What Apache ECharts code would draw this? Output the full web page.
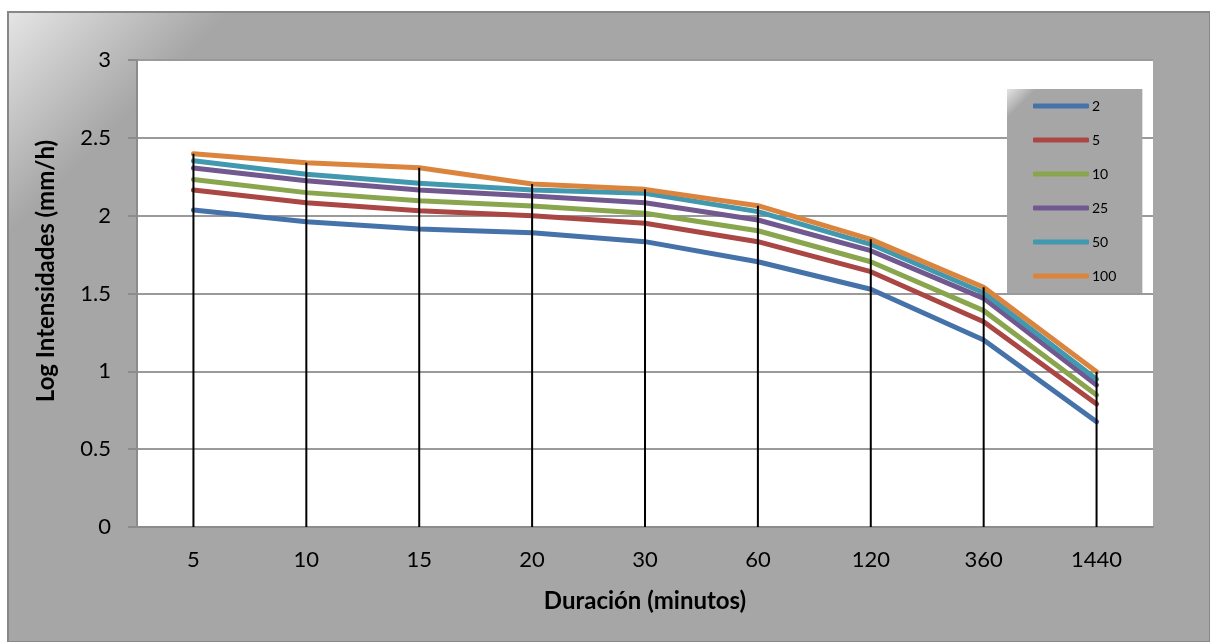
<!DOCTYPE html>
<html>
<head>
<meta charset="utf-8">
<script src="https://cdn.jsdelivr.net/npm/echarts@6/dist/echarts.min.js"></script>
<style>html,body{margin:0;padding:0;background:#fff;}#c{width:1210px;height:642px;}</style>
</head>
<body>
<div id="c"></div>
<script>
const categories = ['5','10','15','20','30','60','120','360','1440'];
const seriesNames = ['2','5','10','25','50','100'];
const s2   = [2.036, 1.961, 1.914, 1.891, 1.833, 1.704, 1.527, 1.201, 0.676];
const s5   = [2.165, 2.083, 2.032, 2.000, 1.951, 1.833, 1.640, 1.319, 0.790];
const s10  = [2.233, 2.148, 2.096, 2.062, 2.015, 1.903, 1.704, 1.390, 0.848];
const s25  = [2.306, 2.225, 2.165, 2.126, 2.083, 1.972, 1.775, 1.469, 0.912];
const s50  = [2.353, 2.266, 2.208, 2.165, 2.144, 2.026, 1.816, 1.505, 0.949];
const s100 = [2.398, 2.340, 2.308, 2.203, 2.169, 2.064, 1.848, 1.540, 0.998];
const yTicks = [0, 0.5, 1, 1.5, 2, 2.5, 3];
const colors = ['#4672AA', '#AA4643', '#89A54E', '#71588F', '#4198AF', '#DB843D'];
const allData = [s2, s5, s10, s25, s50, s100];

const FONT = 'Lato';
const chart = echarts.init(document.getElementById('c'), null, {renderer: 'canvas'});

const lineSeries = seriesNames.map((n, i) => ({
  name: n,
  type: 'line',
  data: allData[i],
  symbol: 'none',
  z: 2 + i * 0.01,
  lineStyle: {width: 5, color: colors[i], cap: 'round', join: 'round'},
  itemStyle: {color: colors[i]}
}));

const option = {
  backgroundColor: '#ffffff',
  animation: false,
  graphic: [
    {type: 'rect', z: -20, shape: {x: 8, y: 12, width: 1202, height: 630},
     style: {fill: '#a6a6a6', stroke: '#878787', lineWidth: 2}},
    {type: 'rect', z: -19, shape: {x: 9, y: 13, width: 220, height: 220},
     style: {fill: new echarts.graphic.LinearGradient(0, 0, 1, 1, [
       {offset: 0, color: 'rgba(255,255,255,0.7)'},
       {offset: 0.5, color: 'rgba(255,255,255,0)'},
       {offset: 1, color: 'rgba(255,255,255,0)'}
     ])}},
    {type: 'rect', z: 50, silent: true, shape: {x: 1007, y: 89, width: 30, height: 30},
     style: {fill: new echarts.graphic.LinearGradient(0, 0, 1, 1, [
       {offset: 0, color: 'rgba(255,255,255,0.7)'},
       {offset: 0.5, color: 'rgba(255,255,255,0)'},
       {offset: 1, color: 'rgba(255,255,255,0)'}
     ])}},
    {type: 'text', z: 10, x: 46, y: 271, rotation: Math.PI / 2,
     style: {text: 'Log Intensidades (mm/h)', font: 'bold 24px ' + FONT, fill: '#000',
             align: 'center', verticalAlign: 'middle'}},
    {type: 'text', z: 10, x: 645, y: 601,
     style: {text: 'Duración (minutos)', font: 'bold 24px ' + FONT, fill: '#000',
             align: 'center', verticalAlign: 'middle'}}
  ],
  grid: {left: 137, top: 60, right: 57, bottom: 115, show: true,
         backgroundColor: '#ffffff', borderWidth: 0},
  legend: {
    data: seriesNames,
    orient: 'vertical',
    left: 1007, top: 89,
    padding: [10, 26, 10, 26],
    itemGap: 20,
    itemWidth: 56, itemHeight: 5,
    icon: 'roundRect',
    backgroundColor: '#a6a6a6',
    textStyle: {fontFamily: FONT, fontSize: 14, color: '#000', lineHeight: 14, padding: [0, 0, 0, -2]}
  },
  xAxis: {
    type: 'category',
    data: categories,
    boundaryGap: true,
    axisLine: {show: true, lineStyle: {color: '#8c8c8c', width: 2}},
    axisTick: {show: false},
    axisLabel: {fontFamily: FONT, fontSize: 22, color: '#000', margin: 22, interval: 0},
    splitLine: {show: false}
  },
  yAxis: {
    type: 'value',
    min: yTicks[0], max: yTicks[yTicks.length - 1], interval: 0.5,
    axisLine: {show: true, lineStyle: {color: '#8c8c8c', width: 2}},
    axisTick: {show: true, length: 9, lineStyle: {color: '#8c8c8c', width: 2}},
    axisLabel: {fontFamily: FONT, fontSize: 22, color: '#000', margin: 26,
                formatter: v => String(v)},
    splitLine: {show: true, lineStyle: {color: '#9a9a9a', width: 2}}
  },
  series: lineSeries.concat([{
    name: 'drop',
    type: 'bar',
    data: s100,
    barWidth: 2,
    z: 5,
    itemStyle: {color: '#000000'},
    silent: true
  }])
};
chart.setOption(option);
</script>
</body>
</html>
